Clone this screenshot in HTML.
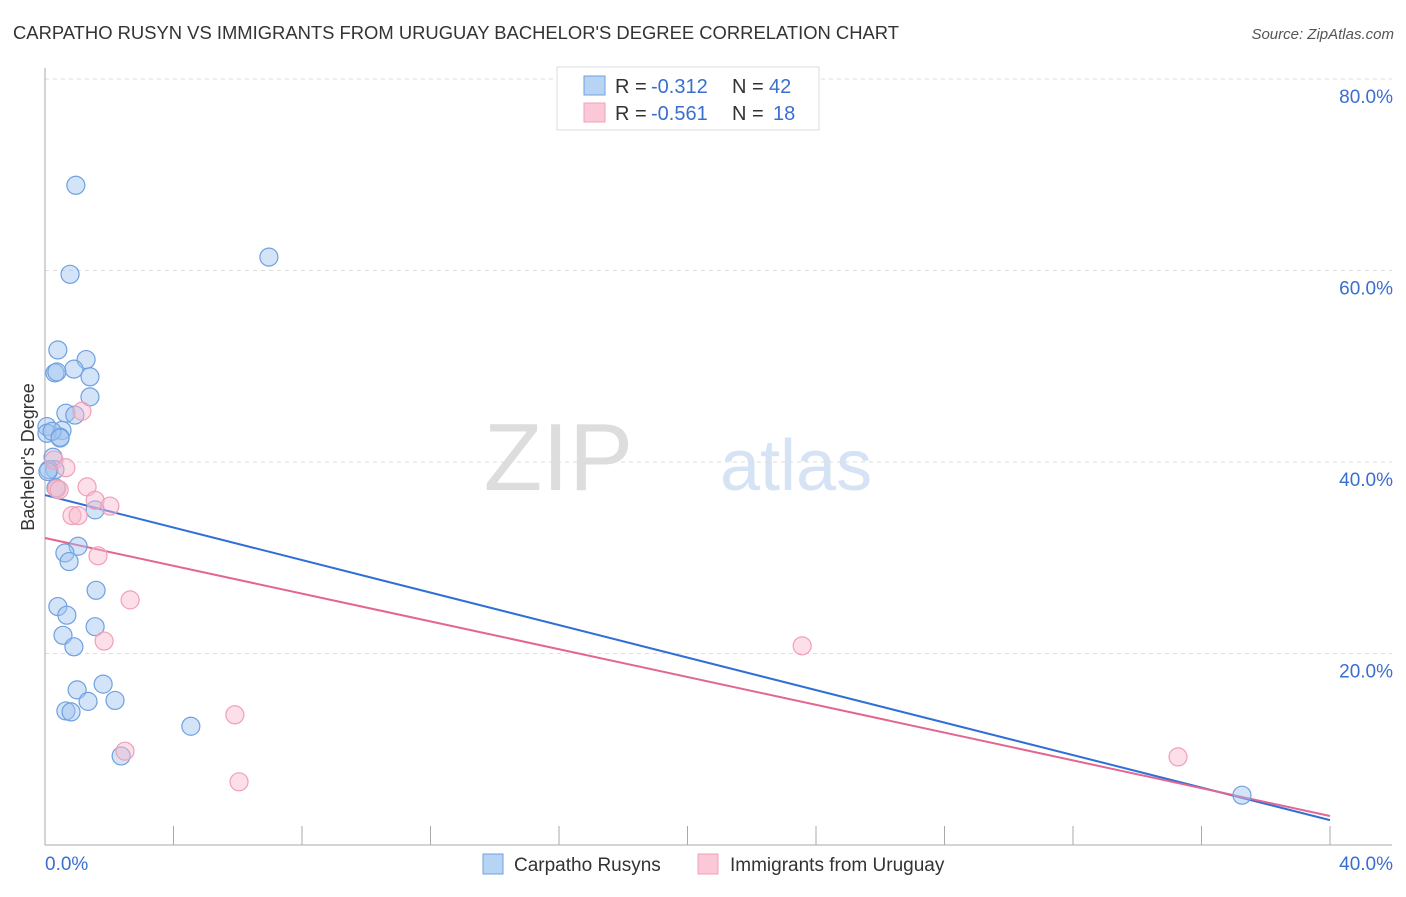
<!DOCTYPE html>
<html><head><meta charset="utf-8"><style>
body{margin:0;background:#fff;font-family:"Liberation Sans",sans-serif;}
svg text{font-family:"Liberation Sans",sans-serif;}
</style></head><body>
<svg id="chart" width="1406" height="892" xmlns="http://www.w3.org/2000/svg">
<text x="13" y="39" font-size="18" fill="#333" textLength="886" lengthAdjust="spacingAndGlyphs">CARPATHO RUSYN VS IMMIGRANTS FROM URUGUAY BACHELOR'S DEGREE CORRELATION CHART</text>
<text x="1394" y="39" font-size="15" fill="#555" font-style="italic" text-anchor="end">Source: ZipAtlas.com</text>
<g>
<text x="633" y="490" font-size="96" fill="#ddd" font-family="Liberation Serif" text-anchor="end">ZIP</text>
<text x="720" y="490" font-size="72" fill="#d5e3f5">atlas</text>
</g>
<g id="grid"></g>
<g id="axes"></g>
<g id="lines"></g>
<g id="points"></g>
<text transform="translate(34,457) rotate(-90)" font-size="18" fill="#333" text-anchor="middle">Bachelor's Degree</text>
<g>
<rect x="557" y="67" width="262" height="63" fill="#fff" stroke="#ddd"/>
<rect x="584" y="76" width="21" height="19" fill="#b8d4f5" stroke="#6fa0e0"/>
<rect x="584" y="103" width="21" height="19" fill="#fac8d6" stroke="#f0a0b8"/>
<text x="615" y="93" font-size="20" fill="#333">R =</text>
<text x="651" y="93" font-size="20" fill="#3a6fd0">-0.312</text>
<text x="732" y="93" font-size="20" fill="#333">N =</text>
<text x="769" y="93" font-size="20" fill="#3a6fd0">42</text>
<text x="615" y="120" font-size="20" fill="#333">R =</text>
<text x="651" y="120" font-size="20" fill="#3a6fd0">-0.561</text>
<text x="732" y="120" font-size="20" fill="#333">N =</text>
<text x="773" y="120" font-size="20" fill="#3a6fd0">18</text>
</g>
<g>
<rect x="483" y="854" width="20" height="20" fill="#b8d4f5" stroke="#6fa0e0"/>
<text x="514" y="871" font-size="19" fill="#333">Carpatho Rusyns</text>
<rect x="698" y="854" width="20" height="20" fill="#fac8d6" stroke="#f0a0b8"/>
<text x="730" y="871" font-size="19" fill="#333">Immigrants from Uruguay</text>
</g>
</svg>
<script>
const blueX=[0.96,6.97,0.78,0.40,1.28,0.31,0.90,1.40,1.40,0.65,0.93,0.06,0.53,0.06,0.47,0.25,0.31,0.12,0.34,1.56,1.03,0.62,0.75,1.59,0.40,0.68,1.56,0.56,0.90,1.00,1.81,0.65,0.81,1.34,2.18,4.54,2.37,37.26,0.22,0.09,0.47,0.37];
const blueY=[68.9,61.4,59.6,51.7,50.7,49.3,49.7,48.9,46.8,45.1,44.9,43.7,43.3,43.0,42.6,40.5,39.2,39.2,37.3,35.0,31.2,30.5,29.6,26.6,24.9,24.0,22.8,21.9,20.7,16.2,16.8,14.0,13.9,15.0,15.1,12.4,9.3,5.2,43.2,39.0,42.5,49.4];
const pinkX=[1.15,0.28,0.65,0.37,0.44,1.31,1.56,2.02,0.84,1.03,1.65,2.65,1.84,5.91,2.49,6.04,23.57,35.27];
const pinkY=[45.3,40.2,39.4,37.2,37.1,37.4,36.0,35.4,34.4,34.4,30.2,25.6,21.3,13.6,9.8,6.6,20.8,9.2];
const blueTrend=[36.55,2.6];
const pinkTrend=[32.06,3.03];
const yTicks=[20,40,60,80];
const yTickLabels=["20.0%","40.0%","60.0%","80.0%"];
const xTicks=[0,4,8,12,16,20,24,28,32,36,40];
const xMin=0,xMax=40;
const sx=v=>45+(v-xMin)/(xMax-xMin)*1285;
const sy=v=>845-v*9.575;
const NS="http://www.w3.org/2000/svg";
function mk(tag,attrs,parent){const e=document.createElementNS(NS,tag);for(const k in attrs)e.setAttribute(k,attrs[k]);parent.appendChild(e);return e;}
const grid=document.getElementById('grid');
yTicks.forEach((t,i)=>{
 const l=mk('line',{x1:45,x2:1392,y1:sy(t),y2:sy(t),stroke:'#ddd','stroke-dasharray':'4,4'},grid);
 
 
 const tx=mk('text',{x:1393,y:sy(t)+24,'font-size':19,fill:'#3a6fd0','text-anchor':'end'},grid);
 tx.textContent=yTickLabels[i];
 
 
});
const axes=document.getElementById('axes');
mk('line',{x1:45,x2:45,y1:68,y2:845,stroke:'#aaa'},axes);
mk('line',{x1:45,x2:1392,y1:845,y2:845,stroke:'#aaa'},axes);
xTicks.forEach(t=>{
 const l=mk('line',{x1:sx(t),x2:sx(t),y1:826,y2:845,stroke:'#aaa'},axes);
 
 
});
const xl0=mk('text',{x:45,y:870,'font-size':19,fill:'#3a6fd0'},axes);xl0.textContent=xMin.toFixed(1)+'%';


const xl1=mk('text',{x:1393,y:870,'font-size':19,fill:'#3a6fd0','text-anchor':'end'},axes);xl1.textContent=xMax.toFixed(1)+'%';


const pts=document.getElementById('points');
blueX.forEach((x,i)=>{
 const c=mk('circle',{cx:sx(x),cy:sy(blueY[i]),r:9,fill:'rgba(160,196,240,0.45)',stroke:'#6fa0e0','stroke-width':1.2},pts);
 
 
});
pinkX.forEach((x,i)=>{
 const c=mk('circle',{cx:sx(x),cy:sy(pinkY[i]),r:9,fill:'rgba(248,184,204,0.45)',stroke:'#f0a0b8','stroke-width':1.2},pts);
 
 
});
const lines=document.getElementById('lines');
const bl=mk('line',{x1:sx(xMin),y1:sy(blueTrend[0]),x2:sx(xMax),y2:sy(blueTrend[1]),stroke:'#2f6fd6','stroke-width':2},lines);


const pl=mk('line',{x1:sx(xMin),y1:sy(pinkTrend[0]),x2:sx(xMax),y2:sy(pinkTrend[1]),stroke:'#e36690','stroke-width':2},lines);


</script>
</body></html>
